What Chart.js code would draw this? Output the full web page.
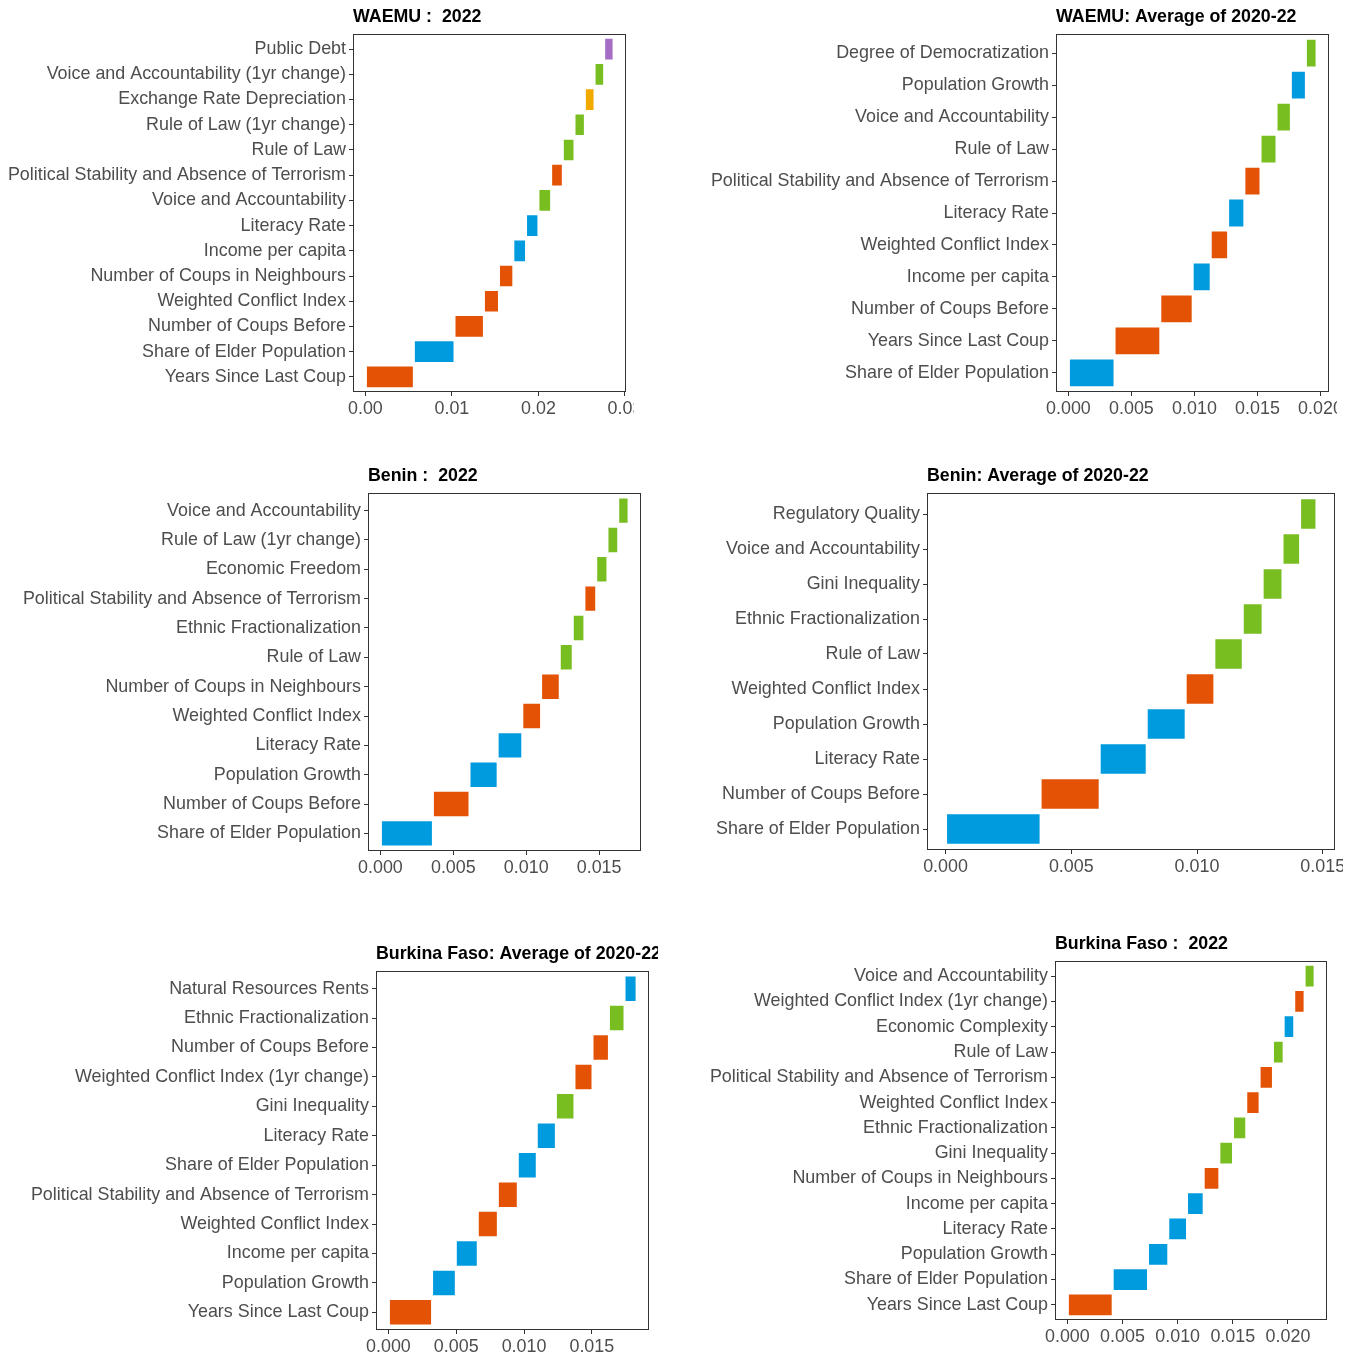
<!DOCTYPE html>
<html>
<head>
<meta charset="utf-8">
<script src="https://cdn.jsdelivr.net/npm/chart.js@4.4.1/dist/chart.umd.min.js"></script>
<style>
  html, body { margin: 0; padding: 0; background: #ffffff; width: 1355px; height: 1353px; overflow: hidden; }
  .panel { position: absolute; overflow: hidden; }
  .panel canvas { position: absolute; left: 0; top: 0; }
</style>
</head>
<body>
<div class="panel" id="waemu2022"><canvas></canvas></div>
<div class="panel" id="waemuAvg"><canvas></canvas></div>
<div class="panel" id="benin2022"><canvas></canvas></div>
<div class="panel" id="beninAvg"><canvas></canvas></div>
<div class="panel" id="burkinaAvg"><canvas></canvas></div>
<div class="panel" id="burkina2022"><canvas></canvas></div>
<script>
// Contribution of each driver, listed from the bottom bar to the top bar.

// WAEMU : 2022
const waemu2022Labels = [
  "Years Since Last Coup", "Share of Elder Population", "Number of Coups Before",
  "Weighted Conflict Index", "Number of Coups in Neighbours", "Income per capita",
  "Literacy Rate", "Voice and Accountability", "Political Stability and Absence of Terrorism",
  "Rule of Law", "Rule of Law (1yr change)", "Exchange Rate Depreciation",
  "Voice and Accountability (1yr change)", "Public Debt"
];
const waemu2022Values = [0.0056, 0.0047, 0.0034, 0.00174, 0.00166, 0.00147, 0.00143, 0.00147, 0.00135, 0.00135, 0.0012, 0.00112, 0.00111, 0.00109];
const waemu2022Groups = ["conflict", "structural", "conflict", "conflict", "conflict", "structural", "structural", "governance", "conflict", "governance", "governance", "external", "governance", "fiscal"];
const waemu2022Ticks = ["0.00", "0.01", "0.02", "0.03"];

// WAEMU: Average of 2020-22
const waemuAvgLabels = [
  "Share of Elder Population", "Years Since Last Coup", "Number of Coups Before",
  "Income per capita", "Weighted Conflict Index", "Literacy Rate",
  "Political Stability and Absence of Terrorism", "Rule of Law", "Voice and Accountability",
  "Population Growth", "Degree of Democratization"
];
const waemuAvgValues = [0.00366, 0.00363, 0.00257, 0.00143, 0.00138, 0.00129, 0.00128, 0.00127, 0.00114, 0.00119, 0.00085];
const waemuAvgGroups = ["structural", "conflict", "conflict", "structural", "conflict", "structural", "conflict", "governance", "governance", "structural", "governance"];
const waemuAvgTicks = ["0.000", "0.005", "0.010", "0.015", "0.020"];

// Benin : 2022
const benin2022Labels = [
  "Share of Elder Population", "Number of Coups Before", "Population Growth",
  "Literacy Rate", "Weighted Conflict Index", "Number of Coups in Neighbours",
  "Rule of Law", "Ethnic Fractionalization", "Political Stability and Absence of Terrorism",
  "Economic Freedom", "Rule of Law (1yr change)", "Voice and Accountability"
];
const benin2022Values = [0.0036, 0.00251, 0.00193, 0.00169, 0.00129, 0.00128, 0.00089, 0.0008, 0.00081, 0.00077, 0.00074, 0.00071];
const benin2022Groups = ["structural", "conflict", "structural", "structural", "conflict", "conflict", "governance", "governance", "conflict", "governance", "governance", "governance"];
const benin2022Ticks = ["0.000", "0.005", "0.010", "0.015"];

// Benin: Average of 2020-22
const beninAvgLabels = [
  "Share of Elder Population", "Number of Coups Before", "Literacy Rate",
  "Population Growth", "Weighted Conflict Index", "Rule of Law",
  "Ethnic Fractionalization", "Gini Inequality", "Voice and Accountability",
  "Regulatory Quality"
];
const beninAvgValues = [0.00378, 0.00235, 0.00187, 0.00155, 0.00114, 0.00113, 0.00079, 0.00079, 0.0007, 0.00065];
const beninAvgGroups = ["structural", "conflict", "structural", "structural", "conflict", "governance", "governance", "governance", "governance", "governance"];
const beninAvgTicks = ["0.000", "0.005", "0.010", "0.015"];

// Burkina Faso: Average of 2020-22
const burkinaAvgLabels = [
  "Years Since Last Coup", "Population Growth", "Income per capita",
  "Weighted Conflict Index", "Political Stability and Absence of Terrorism", "Share of Elder Population",
  "Literacy Rate", "Gini Inequality", "Weighted Conflict Index (1yr change)",
  "Number of Coups Before", "Ethnic Fractionalization", "Natural Resources Rents"
];
const burkinaAvgValues = [0.00322, 0.00175, 0.00162, 0.00148, 0.00147, 0.0014, 0.00141, 0.00137, 0.00133, 0.00121, 0.00115, 0.00089];
const burkinaAvgGroups = ["conflict", "structural", "structural", "conflict", "conflict", "structural", "structural", "governance", "conflict", "conflict", "governance", "structural"];
const burkinaAvgTicks = ["0.000", "0.005", "0.010", "0.015"];

// Burkina Faso : 2022
const burkina2022Labels = [
  "Years Since Last Coup", "Share of Elder Population", "Population Growth",
  "Literacy Rate", "Income per capita", "Number of Coups in Neighbours",
  "Gini Inequality", "Ethnic Fractionalization", "Weighted Conflict Index",
  "Political Stability and Absence of Terrorism", "Rule of Law", "Economic Complexity",
  "Weighted Conflict Index (1yr change)", "Voice and Accountability"
];
const burkina2022Values = [0.00411, 0.0032, 0.00184, 0.0017, 0.00151, 0.00142, 0.00124, 0.0012, 0.00121, 0.00121, 0.00097, 0.00096, 0.00094, 0.00091];
const burkina2022Groups = ["conflict", "structural", "structural", "structural", "structural", "conflict", "governance", "governance", "conflict", "conflict", "governance", "structural", "conflict", "governance"];
const burkina2022Ticks = ["0.000", "0.005", "0.010", "0.015", "0.020"];

// Fill colour for each driver group
const groupColors = {
  conflict: "#E35205",
  structural: "#009ADE",
  governance: "#78BE21",
  external: "#F2A900",
  fiscal: "#A56EC4"
};

const TEXT_FONT = "'Liberation Sans', Arial, sans-serif";
const AXIS_TEXT = "#4D4D4D";
const AXIS_LINE = "#333333";
const AXIS_FONT_SIZE = 17.9;

// Panel geometry: container box (clips overflow) and plot frame edges, in page pixels
const panels = [
  { id: "waemu2022", title: "WAEMU :  2022", labels: waemu2022Labels, values: waemu2022Values, groups: waemu2022Groups, ticks: waemu2022Ticks,
    box: [0, 0, 634, 440], frame: [353, 626, 34, 392] },
  { id: "waemuAvg", title: "WAEMU: Average of 2020-22", labels: waemuAvgLabels, values: waemuAvgValues, groups: waemuAvgGroups, ticks: waemuAvgTicks,
    box: [640, 0, 697, 440], frame: [1056, 1329, 34, 392] },
  { id: "benin2022", title: "Benin :  2022", labels: benin2022Labels, values: benin2022Values, groups: benin2022Groups, ticks: benin2022Ticks,
    box: [0, 440, 660, 450], frame: [368, 641, 493, 851] },
  { id: "beninAvg", title: "Benin: Average of 2020-22", labels: beninAvgLabels, values: beninAvgValues, groups: beninAvgGroups, ticks: beninAvgTicks,
    box: [660, 440, 683, 450], frame: [927, 1335, 493, 850] },
  { id: "burkinaAvg", title: "Burkina Faso: Average of 2020-22", labels: burkinaAvgLabels, values: burkinaAvgValues, groups: burkinaAvgGroups, ticks: burkinaAvgTicks,
    box: [0, 900, 658, 453], frame: [376, 649, 971, 1330] },
  { id: "burkina2022", title: "Burkina Faso :  2022", labels: burkina2022Labels, values: burkina2022Values, groups: burkina2022Groups, ticks: burkina2022Ticks,
    box: [660, 900, 695, 453], frame: [1055, 1327, 961, 1320] }
];

// Panel border and left-aligned title drawn around the plot area
const framePlugin = {
  id: "panelFrame",
  afterDraw(chart, args, opts) {
    const { ctx, chartArea: a } = chart;
    ctx.save();
    ctx.strokeStyle = AXIS_LINE;
    ctx.lineWidth = 1;
    ctx.strokeRect(Math.round(a.left) + 0.5, Math.round(a.top) + 0.5,
                   Math.round(a.right - a.left) - 1, Math.round(a.bottom - a.top) - 1);
    ctx.fillStyle = "#000000";
    ctx.font = "bold 17.8px " + TEXT_FONT;
    ctx.textAlign = "left";
    ctx.textBaseline = "middle";
    ctx.fillText(opts.text, a.left, a.top - 16.5);
    ctx.restore();
  }
};

const X_AXIS_HEIGHT = 32;
const RIGHT_ROOM = 30;
// Discrete axis padding of 0.6 category on each end
const CATEGORY_PAD = 0.6;

panels.forEach(p => {
  const [bx, by, bw, bh] = p.box;
  const [fl, fr, ft, fb] = p.frame;
  const host = document.getElementById(p.id);
  host.style.left = bx + "px";
  host.style.top = by + "px";
  host.style.width = bw + "px";
  host.style.height = bh + "px";

  const canvas = host.querySelector("canvas");
  canvas.width = fr - bx + RIGHT_ROOM;
  canvas.height = fb - by + X_AXIS_HEIGHT;
  canvas.style.width = canvas.width + "px";
  canvas.style.height = canvas.height + "px";

  // Waterfall: each bar starts where the previous one ends
  let running = 0;
  const ranges = p.values.map(v => [running, (running += v)]);
  const total = running;
  const tickValues = p.ticks.map(Number);

  new Chart(canvas, {
    type: "bar",
    data: {
      labels: p.labels,
      datasets: [{
        data: ranges,
        backgroundColor: p.groups.map(g => groupColors[g]),
        borderColor: "rgba(255,255,255,0.75)",
        borderWidth: 1,
        borderSkipped: false,
        barPercentage: 0.9,
        categoryPercentage: 1.0
      }]
    },
    options: {
      indexAxis: "y",
      responsive: false,
      animation: false,
      devicePixelRatio: 1,
      layout: { padding: { left: 0, right: RIGHT_ROOM, top: ft - by, bottom: 0 } },
      plugins: {
        legend: { display: false },
        tooltip: { enabled: false },
        title: { display: false },
        panelFrame: { text: p.title }
      },
      scales: {
        x: {
          type: "linear",
          min: -0.05 * total,
          max: 1.05 * total,
          border: { display: false },
          grid: { display: true, drawOnChartArea: false, drawTicks: true, tickLength: 4, color: AXIS_LINE, lineWidth: 1 },
          ticks: {
            autoSkip: false, maxRotation: 0, padding: 2,
            color: AXIS_TEXT, font: { family: TEXT_FONT, size: AXIS_FONT_SIZE },
            callback: (value) => {
              const i = tickValues.findIndex(t => Math.abs(t - value) < 1e-9);
              return i >= 0 ? p.ticks[i] : "";
            }
          },
          afterBuildTicks: (scale) => { scale.ticks = tickValues.map(v => ({ value: v })); },
          afterFit: (scale) => { scale.height = X_AXIS_HEIGHT; }
        },
        y: {
          type: "category",
          reverse: true,
          offset: true,
          border: { display: false },
          grid: { display: true, offset: false, drawOnChartArea: false, drawTicks: true, tickLength: 4, color: AXIS_LINE, lineWidth: 1 },
          ticks: {
            autoSkip: false, padding: 3,
            color: AXIS_TEXT, font: { family: TEXT_FONT, size: AXIS_FONT_SIZE }
          },
          afterBuildTicks: (scale) => {
            const n = scale.max - scale.min + 1;
            scale._startValue = scale.min - CATEGORY_PAD;
            scale._valueRange = n - 1 + 2 * CATEGORY_PAD;
          },
          afterFit: (scale) => { scale.width = fl - bx; }
        }
      }
    },
    plugins: [framePlugin]
  });
});
</script>
</body>
</html>
